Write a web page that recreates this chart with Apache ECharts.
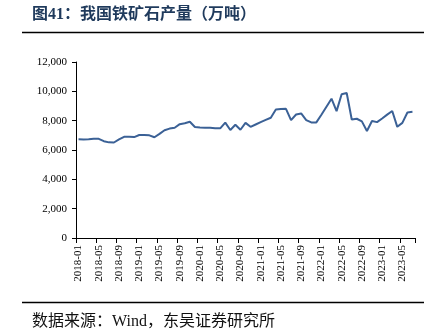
<!DOCTYPE html>
<html>
<head>
<meta charset="utf-8">
<script src="https://cdn.jsdelivr.net/npm/echarts@6/dist/echarts.min.js"></script>
<style>
html,body{margin:0;padding:0;background:#fff;}
#c{width:442px;height:335px;}
</style>
</head>
<body>
<div id="c"></div>
<script>
var titleText = '图41：我国铁矿石产量（万吨）';
var sourceText = '数据来源：Wind，东吴证券研究所';

var categories = [
  '2018-01','2018-02','2018-03','2018-04','2018-05','2018-06','2018-07','2018-08','2018-09','2018-10','2018-11','2018-12',
  '2019-01','2019-02','2019-03','2019-04','2019-05','2019-06','2019-07','2019-08','2019-09','2019-10','2019-11','2019-12',
  '2020-01','2020-02','2020-03','2020-04','2020-05','2020-06','2020-07','2020-08','2020-09','2020-10','2020-11','2020-12',
  '2021-01','2021-02','2021-03','2021-04','2021-05','2021-06','2021-07','2021-08','2021-09','2021-10','2021-11','2021-12',
  '2022-01','2022-02','2022-03','2022-04','2022-05','2022-06','2022-07','2022-08','2022-09','2022-10','2022-11','2022-12',
  '2023-01','2023-02','2023-03','2023-04','2023-05','2023-06','2023-07'
];

var production = [
  6725, 6720, 6730, 6760, 6760, 6600, 6520, 6510, 6720, 6900, 6900, 6880,
  7020, 7030, 7000, 6870, 7100, 7350, 7460, 7520, 7760, 7820, 7930, 7570,
  7540, 7520, 7510, 7480, 7480, 7870, 7360, 7720, 7380, 7850, 7580, 7740,
  7900, 8050, 8200, 8760, 8790, 8810, 8040, 8420, 8490, 8040, 7880, 7880,
  8400, 8950, 9500, 8650, 9800, 9890, 8080, 8130, 7950, 7300, 7980, 7900,
  8150, 8410, 8660, 7580, 7850, 8560, 8600
];

var yMin = 0, yMax = 12000, yStep = 2000;

var chart = echarts.init(document.getElementById('c'), null, {renderer: 'canvas'});
var serif = "'Liberation Serif', 'Times New Roman', 'Noto Sans CJK SC', serif";

chart.setOption({
  animation: false,
  backgroundColor: '#ffffff',
  grid: {left: 76, right: 27, top: 62, bottom: 97, containLabel: false},
  xAxis: {
    type: 'category',
    data: categories,
    boundaryGap: true,
    axisLine: {lineStyle: {color: '#000', width: 1}},
    axisTick: {show: true, interval: 3, length: 5, lineStyle: {color: '#000'}},
    axisLabel: {
      interval: 3, rotate: 90, margin: 7,
      fontFamily: serif, fontSize: 11, color: '#000'
    },
    splitLine: {show: false}
  },
  yAxis: {
    type: 'value',
    min: yMin, max: yMax, interval: yStep,
    axisLine: {show: true, lineStyle: {color: '#000', width: 1}},
    axisTick: {show: true, length: 4, lineStyle: {color: '#000'}},
    axisLabel: {
      margin: 9, fontFamily: serif, fontSize: 11, color: '#000',
      formatter: function (v) { return v.toString().replace(/\B(?=(\d{3})+(?!\d))/g, ','); }
    },
    splitLine: {show: false}
  },
  series: [{
    type: 'line',
    data: production,
    symbol: 'none',
    lineStyle: {color: '#3b6196', width: 2},
    itemStyle: {color: '#3b6196'}
  }],
  graphic: [
    {type: 'text', left: 32, top: 7,
     style: {text: titleText, fontSize: 16, fontWeight: 'bold', fill: '#1f3a5c',
             fontFamily: "'Liberation Serif', 'Noto Sans CJK SC', serif"}},
    {type: 'line', shape: {x1: 22, y1: 32.5, x2: 424, y2: 32.5},
     style: {stroke: '#000', lineWidth: 1.5}},
    {type: 'line', shape: {x1: 22, y1: 302.5, x2: 424, y2: 302.5},
     style: {stroke: '#000', lineWidth: 1.5}},
    {type: 'text', left: 32, top: 314,
     style: {text: sourceText, fontSize: 16, fill: '#111',
             fontFamily: "'Liberation Serif', 'Noto Sans CJK SC', serif"}}
  ]
});
</script>
</body>
</html>
